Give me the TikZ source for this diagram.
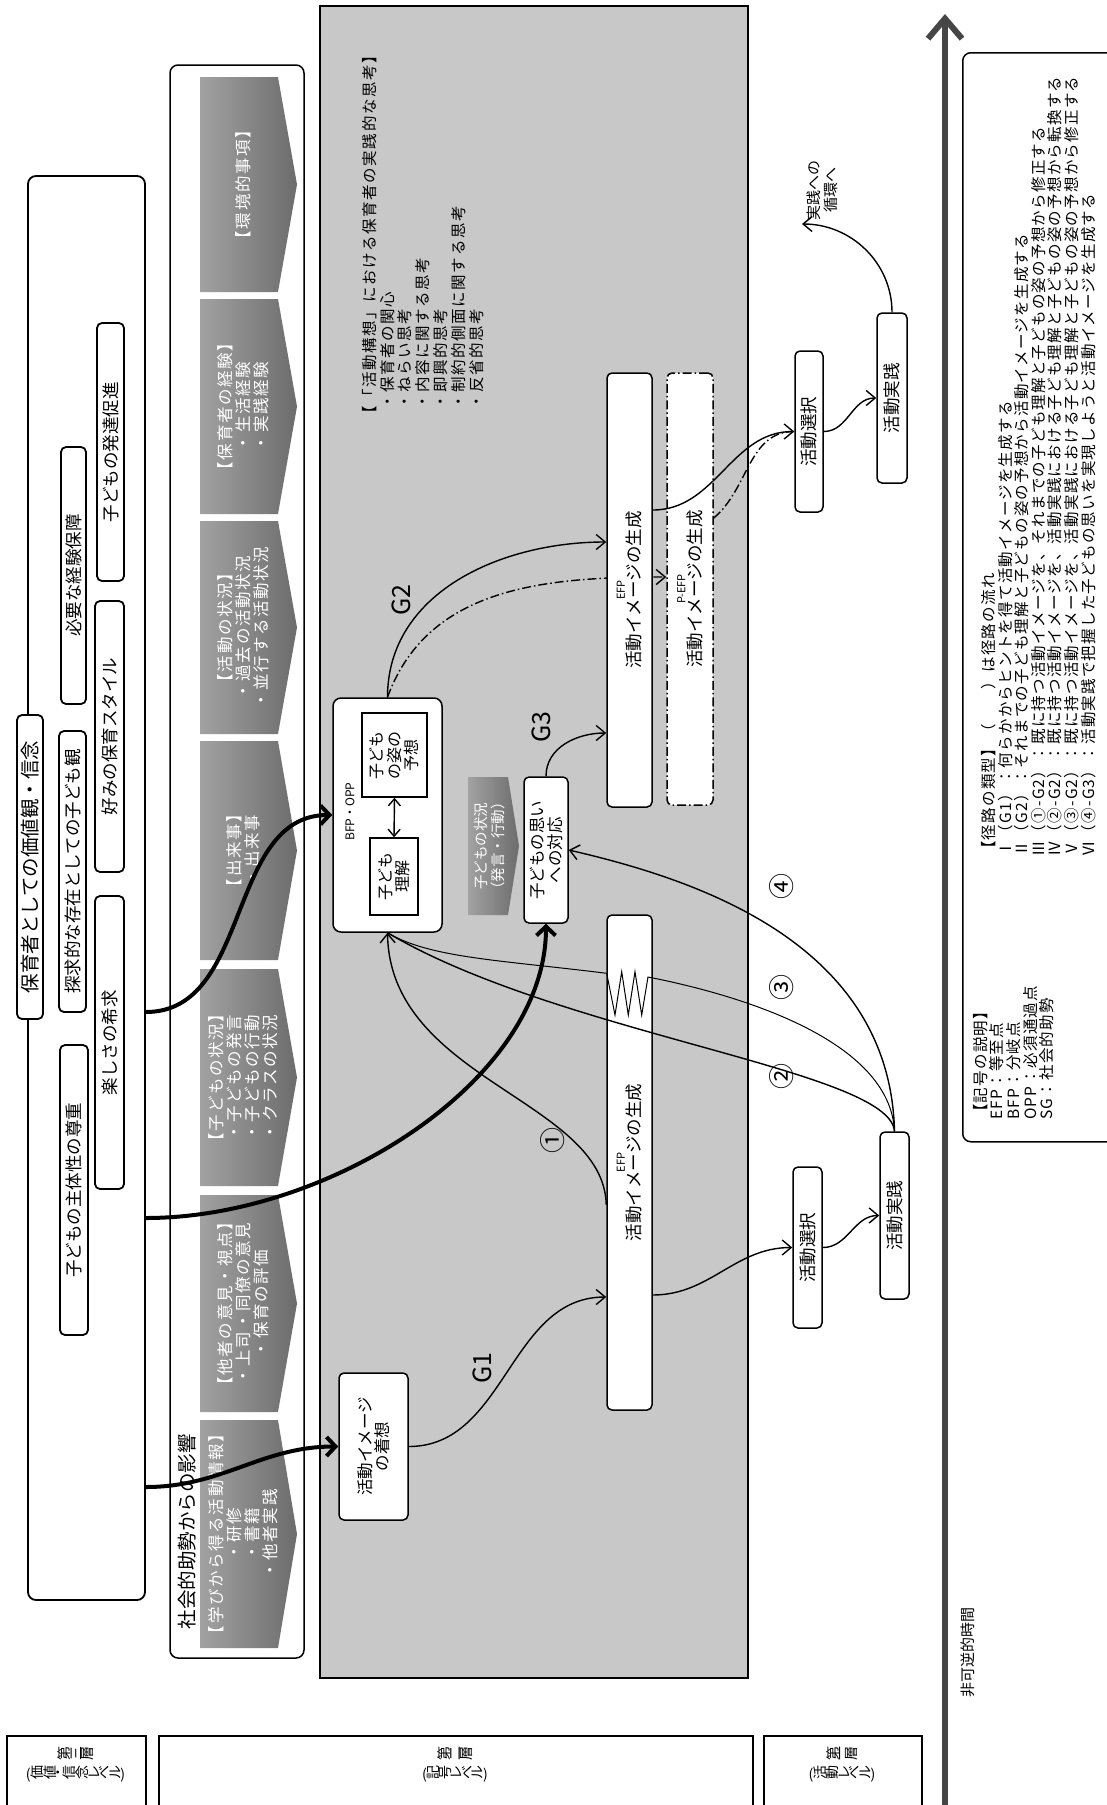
\documentclass[tikz,border=0pt]{standalone}
\usepackage{graphicx}
\usepackage{fontspec}
\setmainfont{Noto Sans CJK JP}
\usetikzlibrary{arrows.meta}

\definecolor{areagray}{RGB}{200,200,200}
\definecolor{chevlight}{RGB}{162,162,162}
\definecolor{chevdark}{RGB}{108,108,108}
\definecolor{axisgray}{RGB}{70,70,70}

% rotated text blocks (centred / flush left), lines at a fixed baselineskip
\newcommand{\rottxt}[1]{\rotatebox{90}{\vbox{\lineskiplimit=-\maxdimen\let\\\cr\halign{\hfil##\hfil\cr#1\crcr}}}}
\newcommand{\rottxtl}[1]{\rotatebox{90}{\vbox{\lineskiplimit=-\maxdimen\let\\\cr\halign{##\hfil\cr#1\crcr}}}}
% characters of a vertical label, turned one by one
\newcommand{\tate}[1]{\tateloop#1\relax}
\def\tateloop#1{\ifx\relax#1\else\rotatebox{90}{#1}\expandafter\tateloop\fi}
% grey arrow-shaped panel with white text
\newcommand{\chev}[4]{%
  \shade[left color=chevlight, right color=chevdark]
    (200,#2) -- (278,#2) -- (297,{(#2+#3)/2}) -- (278,#3) -- (200,#3) -- cycle;
  \node[chevtext] (#1) at (243,{(#2+#3)/2}) {\rottxt{#4}};}

\tikzset{
  rbox/.style={draw, line width=1.5pt, rounded corners=5pt, fill=white, inner sep=0pt},
  valbox/.style={rbox, line width=1.8pt, font=\fontsize{17.5}{20}\selectfont},
  actbox/.style={rbox, font=\fontsize{17.5}{20}\selectfont},
  efpbox/.style={rbox, font=\fontsize{17.5}{16}\selectfont},
  sqbox/.style={draw, line width=1.5pt, fill=white, inner sep=0pt, font=\fontsize{16}{17.5}\selectfont},
  chevtext/.style={text=white, inner sep=0pt, font=\fontsize{16.5}{17.8}\selectfont\addfontfeature{LetterSpace=10}},
  txt/.style={inner sep=0pt},
  ddline/.style={dash pattern=on 9pt off 3pt on 1.5pt off 3pt},
  linkplain/.style={line width=1.4pt},
  link/.style={linkplain, -{Straight Barb[length=9pt,width=15pt]}},
  boldlink/.style={line width=4pt, -{Straight Barb[length=9pt,width=19pt]}},
  numlbl/.style={txt, font=\fontsize{26}{28}\selectfont},
  glbl/.style={txt, font=\fontsize{25}{28}\selectfont},
  legtxt/.style={txt, anchor=south west, font=\fontsize{15.5}{16.6}\selectfont\addfontfeature{LetterSpace=8}},
  layerbox/.style={draw, line width=1.5pt, anchor=north west, minimum height=100pt},
  layertxt/.style={txt, anchor=north, font=\fontsize{14}{18}\selectfont}
}

\begin{document}
\begin{tikzpicture}[x=1pt, y=-1pt]
\useasboundingbox (0,0) rectangle (1107,1805);

% values and beliefs
\node[rbox, line width=1.8pt, rounded corners=8pt, minimum width=117pt, minimum height=1424pt] (valarea) at (86.5,888) {};
\node[valbox, font=\fontsize{19.5}{22}\selectfont, minimum width=26pt, minimum height=304pt] (belief) at (30,867) {\rottxt{保育者としての価値観・信念}};
\node[valbox, minimum width=27pt, minimum height=281pt] (explore) at (72.5,871.5) {\rottxt{探求的な存在としての子ども観}};
\node[valbox, minimum width=25pt, minimum height=257pt] (needexp) at (73.5,575.5) {\rottxt{必要な経験保障}};
\node[valbox, minimum width=28pt, minimum height=290pt] (subject) at (74,1190) {\rottxt{子どもの主体性の尊重}};
\node[valbox, minimum width=27pt, minimum height=258pt] (develop) at (110.5,452) {\rottxt{子どもの発達促進}};
\node[valbox, minimum width=29pt, minimum height=271pt] (prefer) at (109.5,736.5) {\rottxt{好みの保育スタイル}};
\node[valbox, minimum width=29pt, minimum height=293pt] (enjoy) at (109.5,1042.5) {\rottxt{楽しさの希求}};

% social influences
\node[rbox, rounded corners=8pt, minimum width=134pt, minimum height=1593pt] (social) at (237,861.5) {};
\chev{envir}{77}{292}{【環境的事項】}
\chev{career}{299}{514}{【保育者の経験】\\・生活経験\\・実践経験}
\chev{actstate}{521}{734}{【活動の状況】\\・過去の活動状況\\・並行する活動状況}
\chev{event}{741}{960}{【出来事】\\・出来事}
\chev{childstate}{969}{1186}{【子どもの状況】\\・子どもの発言\\・子どもの行動\\・クラスの状況}
\chev{others}{1195}{1412}{【他者の意見・視点】\\・上司・同僚の意見\\・保育の評価}
\chev{learn}{1420}{1648}{【学びから得る活動情報】\\・研修\\・書籍\\・他者実践}
\node[txt, font=\fontsize{19.5}{22}\selectfont] (sglabel) at (187,1531.5) {\rottxt{社会的助勢からの影響}};

% practice area
\node[draw, line width=1.5pt, fill=areagray, minimum width=428pt, minimum height=1672pt, inner sep=0pt] (practice) at (534,842) {};
\node[txt, anchor=south west, font=\fontsize{15.5}{17.8}\selectfont\addfontfeature{LetterSpace=10}] (think) at (362,422) {\rottxtl{【「活動構想」における保育者の実践的な思考】\\\hspace{0.8em}・保育者の関心\\\hspace{0.8em}・ねらい思考\\\hspace{0.8em}・内容に関する思考\\\hspace{0.8em}・即興的思考\\\hspace{0.8em}・制約的側面に関する思考\\\hspace{0.8em}・反省的思考}};

\node[rbox, rounded corners=8pt, minimum width=109pt, minimum height=234pt] (bfp) at (387.5,815) {};
\node[txt, font=\fontsize{12}{14}\selectfont] (bfplabel) at (350,811.5) {\rottxt{BFP・OPP}};
\node[sqbox, minimum width=65pt, minimum height=84pt] (yosou) at (394.5,755) {\rottxt{子ども\\の姿の\\予想}};
\node[sqbox, minimum width=48pt, minimum height=77pt] (rikai) at (394,876.5) {\rottxt{子ども\\理解}};

\shade[left color=chevlight, right color=chevdark] (468,777) -- (508,777) -- (519,846) -- (508,915) -- (468,915) -- cycle;
\node[chevtext, font=\fontsize{14.5}{17}\selectfont] (childnow) at (490,846) {\rottxt{子どもの状況\\（発言・行動）}};
\node[actbox, font=\fontsize{16.5}{18}\selectfont, minimum width=44pt, minimum height=146pt] (omoi) at (546,850) {\rottxt{子どもの思い\\への対応}};

\node[efpbox, ddline, minimum width=46pt, minimum height=432pt] (pefp) at (690,589) {\rottxt{{\fontsize{11}{13}\selectfont P-EFP}\\活動イメージの生成}};
\draw[link, ddline] (bfp.north) to[out=70,in=180] (pefp.west |- 0,577);
\node[efpbox, minimum width=45pt, minimum height=434pt] (uefp) at (629.5,590) {\rottxt{{\fontsize{11}{13}\selectfont EFP}\\活動イメージの生成}};
\node[efpbox, minimum width=45pt, minimum height=495pt] (lefp) at (629.5,1162.5) {\rottxt{{\fontsize{11}{13}\selectfont EFP}\\活動イメージの生成}};
\node[actbox, font=\fontsize{16.5}{17}\selectfont, minimum width=69pt, minimum height=147pt] (chakuso) at (373.5,1446.5) {\rottxt{活動イメージ\\の着想}};

% activity level
\node[actbox, minimum width=28pt, minimum height=161pt] (usentaku) at (809,431.5) {\rottxt{活動選択}};
\node[actbox, minimum width=30pt, minimum height=170pt] (ujissen) at (892,398) {\rottxt{活動実践}};
\node[actbox, minimum width=29pt, minimum height=161pt] (lsentaku) at (807.5,1247.5) {\rottxt{活動選択}};
\node[actbox, minimum width=29pt, minimum height=167pt] (ljissen) at (894.5,1215.5) {\rottxt{活動実践}};
\node[txt, font=\fontsize{15}{17}\selectfont] (cyclbl) at (822,190) {\rottxt{実践への\\循環へ}};
\coordinate (cycend) at (802,224);

% irreversible time
\coordinate (tstart) at (945,1805);
\coordinate (tend) at (945,14);
\draw[axisgray, line width=6pt, -{Straight Barb[length=20pt,width=34pt]}] (tstart) -- (tend);
\node[txt, font=\fontsize{15}{17}\selectfont] (timelbl) at (968,1652) {\rottxt{非可逆的時間}};

% legend
\node[rbox, rounded corners=8pt, minimum width=158pt, minimum height=1089pt, anchor=north west] (legend) at (962,52) {};
\node[legtxt] (kigo) at (973,1120) {\rottxtl{【記号の説明】\\EFP：等至点\\BFP：分岐点\\OPP：必須通過点\\SG：社会的助勢}};
\node[legtxt] (keiro) at (981,857) {\rottxtl{【径路の類型】（　　）は径路の流れ\\Ⅰ（G1）：何らかからヒントを得て活動イメージを生成する\\Ⅱ（G2）：それまでの子ども理解と子どもの姿の予想から活動イメージを生成する\\Ⅲ（①-G2）：既に持つ活動イメージを、それまでの子ども理解と子どもの姿の予想から修正する\\Ⅳ（②-G2）：既に持つ活動イメージを、活動実践における子ども理解と子どもの姿の予想から転換する\\Ⅴ（③-G2）：既に持つ活動イメージを、活動実践における子ども理解と子どもの姿の予想から修正する\\Ⅵ（④-G3）：活動実践で把握した子どもの思いを実現しようと活動イメージを生成する}};

% layer labels
\node[layerbox, minimum width=139pt] (layer3) at (6,1735) {};
\node[layerbox, minimum width=594pt] (layer2) at (158,1735) {};
\node[layerbox, minimum width=158pt] (layer1) at (763,1735) {};
\node[layertxt] (layer3txt) at (75.5,1746) {\begin{tabular}{@{}c@{}}\tate{第三層}\\(\tate{価値・信念レベル})\end{tabular}};
\node[layertxt] (layer2txt) at (455,1746) {\begin{tabular}{@{}c@{}}\tate{第二層}\\(\tate{記号レベル})\end{tabular}};
\node[layertxt] (layer1txt) at (842,1746) {\begin{tabular}{@{}c@{}}\tate{第一層}\\(\tate{活動レベル})\end{tabular}};

% paths
\draw[boldlink] (valarea.east |- 0,1012) to[out=0,in=180] (bfp.west);
\draw[boldlink] (valarea.east |- 0,1218) .. controls (330,1218) and (546,1080) .. (omoi.south);
\draw[boldlink] (valarea.east |- 0,1487) to[out=0,in=180] (chakuso.west);
\draw[link] (chakuso.east) to[out=0,in=180] (lefp.west |- 0,1297);
\draw[link] (lefp.east |- 0,1295) to[out=0,in=180] (lsentaku.west);
\draw[link] (lsentaku.east) to[out=0,in=180] (ljissen.west);
\draw[link] (uefp.east |- 0,510) to[out=0,in=180] (usentaku.west);
\draw[linkplain, ddline] (pefp.east |- 0,518) to[out=40,in=180] (usentaku.west);
\draw[link] (usentaku.east) to[out=0,in=180] (ujissen.west);
\draw[link] (ujissen.north) to[out=90,in=0] (cycend);
\draw[link] (bfp.north) to[out=90,in=180] (uefp.west |- 0,542);
\draw[link] (omoi.north) to[out=90,in=180] (uefp.west |- 0,733);
\draw[link] (lefp.west |- 0,1205) .. controls (604,1100) and (390,1080) .. (bfp.south);
\draw[linkplain] (ljissen.north) .. controls (890,1070) and (560,1035) .. (bfp.south);
\draw[linkplain, line width=1pt] (ljissen.north) .. controls (890,1040) and (740,995) .. (648,977)
  -- (641.7,1015) -- (635,971.7) -- (628.3,1015) -- (621.7,971.7) -- (615,1015) -- (606.7,973.3)
  .. controls (500,960) and (430,958) .. (bfp.south);
\draw[link] (ljissen.north) .. controls (890,940) and (690,878) .. (omoi.east);
\draw[{Straight Barb[length=7pt,width=12pt]}-{Straight Barb[length=7pt,width=12pt]}, line width=1.4pt] (yosou.south) -- (rikai.north);

\node[glbl] (g1) at (482,1368) {\rotatebox{90}{G1}};
\node[glbl] (g2) at (401,600) {\rotatebox{90}{G2}};
\node[glbl] (g3) at (541,727) {\rotatebox{90}{G3}};
\node[numlbl] (n1) at (553,1140) {\rotatebox{90}{①}};
\node[numlbl] (n2) at (782,1076) {\rotatebox{90}{②}};
\node[numlbl] (n3) at (782,987) {\rotatebox{90}{③}};
\node[numlbl] (n4) at (782,886) {\rotatebox{90}{④}};
\end{tikzpicture}
\end{document}
